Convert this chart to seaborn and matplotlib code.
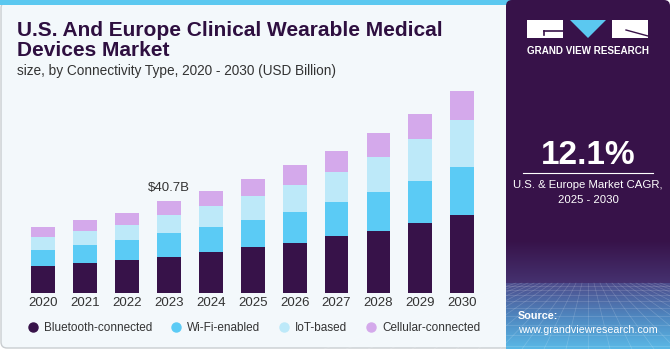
import numpy as np
import pandas as pd
import seaborn as sns
import matplotlib.pyplot as plt
from matplotlib.patches import FancyBboxPatch, Rectangle, Polygon
from matplotlib.lines import Line2D

# --- data (USD Billion) ---
years = ['2020', '2021', '2022', '2023', '2024', '2025', '2026', '2027', '2028', '2029', '2030']
bluetooth = [12.0, 13.4, 14.7, 16.1, 18.2, 20.3, 22.3, 25.3, 27.6, 31.1, 34.7]
wifi = [7.1, 7.9, 8.7, 10.4, 11.2, 12.2, 13.7, 15.0, 17.2, 18.5, 21.0]
iot = [5.7, 6.3, 6.9, 8.1, 9.1, 10.5, 11.8, 13.4, 15.4, 18.4, 20.9]
cellular = [4.3, 4.7, 5.2, 6.0, 6.6, 7.4, 8.7, 9.1, 10.3, 11.2, 12.7]
segments = ['Bluetooth-connected', 'Wi-Fi-enabled', 'IoT-based', 'Cellular-connected']
colors = ['#371249', '#5bcbf5', '#bde9f9', '#d4a9eb']
cagr_text = '12.1%'
callout_year = '2023'
callout_text = '$40.7B'

df = pd.DataFrame({'year': years, 'Bluetooth-connected': bluetooth,
                   'Wi-Fi-enabled': wifi, 'IoT-based': iot,
                   'Cellular-connected': cellular})
cum = df[segments].cumsum(axis=1)

W, H = 671, 350
BG = '#f3f8fb'
PANEL = '#371249'

fig = plt.figure(figsize=(W / 100, H / 100), dpi=100)
fig.patch.set_facecolor('white')

# background layer in pixel coordinates
bg = fig.add_axes([0, 0, 1, 1])
bg.set_xlim(0, W)
bg.set_ylim(H, 0)
bg.axis('off')

bg.add_patch(FancyBboxPatch((1, 2), 520, 346, boxstyle='round,pad=0,rounding_size=6',
                            fc=BG, ec='#c9cdd0', lw=1))
bg.add_patch(Rectangle((0, 0), 512, 4.5, fc='#5bc8f0', ec='none'))

# right panel with gradient bottom
bg.add_patch(FancyBboxPatch((506, 0), 164, 349, boxstyle='round,pad=0,rounding_size=6',
                            fc=PANEL, ec='none', zorder=2))
top_grad = np.linspace(0, 1, 50).reshape(-1, 1)
bg.imshow(top_grad, extent=(506, 670, 283, 240), cmap=sns.blend_palette([PANEL, '#45316f'], as_cmap=True),
          aspect='auto', zorder=3)
bot_grad = np.linspace(0, 1, 80).reshape(-1, 1)
bg.imshow(bot_grad, extent=(506, 670, 349, 283), cmap=sns.blend_palette(['#4d4d8c', '#4f86bf', '#5ab8e6'], as_cmap=True),
          aspect='auto', zorder=3)
# faint perspective grid
for k in range(-12, 13):
    bg.plot([588 + k * 6, 588 + k * 22], [283, 349], color='white', alpha=0.18, lw=0.5, zorder=4)
for yy in [286, 290, 295, 301, 308, 316, 325, 335, 346]:
    bg.plot([506, 670], [yy, yy], color='white', alpha=0.18, lw=0.5, zorder=4)
bg.set_xlim(0, W)
bg.set_ylim(H, 0)

# logo
bg.add_patch(Rectangle((527, 20), 36, 18, fc='white', ec='none', zorder=5))
bg.add_patch(Polygon([[570, 20], [606, 20], [588, 38]], fc='#5bc8f0', ec='none', zorder=5))
bg.add_patch(Rectangle((612, 20), 36, 18, fc='white', ec='none', zorder=5))
bg.plot([544, 563], [31, 31], color=PANEL, lw=1.2, zorder=6)
bg.plot([544, 544], [31, 35], color=PANEL, lw=1.2, zorder=6)
bg.plot([626, 648], [30, 36], color=PANEL, lw=1.0, zorder=6)
bg.text(588, 51, 'GRAND VIEW RESEARCH', color='white', fontsize=7.1, fontweight='bold',
        ha='center', va='center', family='Liberation Sans', zorder=6)

# CAGR
bg.text(588, 156, cagr_text, color='white', fontsize=24, fontweight='bold',
        ha='center', va='center', family='Liberation Sans', zorder=6)
bg.plot([523, 653], [173, 173], color='white', lw=0.8, zorder=6)
bg.text(588, 185, 'U.S. & Europe Market CAGR,', color='white', fontsize=8.2,
        ha='center', va='center', family='Liberation Sans', zorder=6)
bg.text(588, 200, '2025 - 2030', color='white', fontsize=8.2,
        ha='center', va='center', family='Liberation Sans', zorder=6)
bg.text(518, 316, 'Source:', color='white', fontsize=7.8, fontweight='bold',
        ha='left', va='center', family='Liberation Sans', zorder=6)
bg.text(518, 330, 'www.grandviewresearch.com', color='white', fontsize=7.7,
        ha='left', va='center', family='Liberation Sans', zorder=6)

# titles
bg.text(17, 30, 'U.S. And Europe Clinical Wearable Medical', color='#2e0f40', fontsize=15,
        fontweight='heavy', ha='left', va='center', family='Liberation Sans', zorder=6)
bg.text(17, 50, 'Devices Market', color='#2e0f40', fontsize=15,
        fontweight='heavy', ha='left', va='center', family='Liberation Sans', zorder=6)
bg.text(17, 71, 'size, by Connectivity Type, 2020 - 2030 (USD Billion)', color='#333333',
        fontsize=9.8, ha='left', va='center', family='Liberation Sans', zorder=6)

# --- chart ---
scale = 40.7 / 92.3  # billions per pixel
ax = fig.add_axes([22 / W, (H - 293.3) / H, (483.3 - 22) / W, (293.3 - 85) / H])
ax.patch.set_alpha(0)
for seg, col in reversed(list(zip(segments, colors))):
    sns.barplot(x=df['year'], y=cum[seg], color=col, saturation=1, width=0.57,
                ax=ax, zorder=2)
ax.set_xlim(-0.5, len(years) - 0.5)
ax.set_ylim(0, (293.3 - 85) * scale)
ax.set_xlabel('')
ax.set_ylabel('')
ax.set_yticks([])
for s in ax.spines.values():
    s.set_visible(False)
ax.tick_params(axis='x', length=0, pad=3)
for lbl in ax.get_xticklabels():
    lbl.set_fontsize(9.5)
    lbl.set_color('#333333')
    lbl.set_family('Liberation Sans')

i = years.index(callout_year)
ax.text(i, cum['Cellular-connected'][i] + 3.2, callout_text, ha='center', va='bottom',
        fontsize=9.5, color='#333333', family='Liberation Sans')

handles = [Line2D([], [], marker='o', ls='none', markersize=6.5, color=c) for c in colors]
leg = ax.legend(handles, segments, loc='center left', bbox_to_anchor=(15 / W, 1 - 327.7 / H),
                bbox_transform=fig.transFigure, ncol=4, frameon=False, handletextpad=0.35,
                columnspacing=1.4, handlelength=1.2, prop={'family': 'Liberation Sans', 'size': 8.5})
for t in leg.get_texts():
    t.set_color('#333333')

fig.savefig('out.png', dpi=100, facecolor=fig.get_facecolor())
